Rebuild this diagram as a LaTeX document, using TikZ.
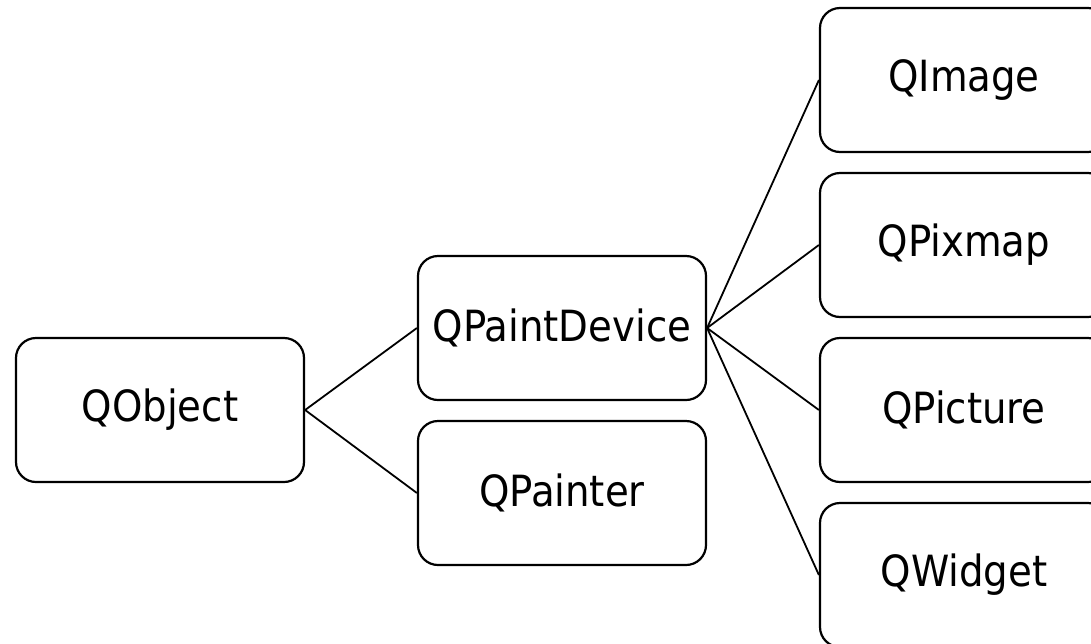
\documentclass[tikz,border=0pt]{standalone}
\usepackage{fontspec}
\setmainfont{DejaVu Sans Condensed}
\begin{document}
\begin{tikzpicture}[x=1pt,y=-1pt,
  box/.style={draw=black, line width=2.2pt, rounded corners=20pt, minimum width=288pt, minimum height=144pt, inner sep=0pt, font=\fontsize{43}{50}\selectfont, fill=white},
  link/.style={draw=black, line width=1.8pt}]
\useasboundingbox (0,0) rectangle (1091,643);
\clip (0,0) rectangle (1091,643);
\node[box] (qobject) at (160,410) {QObject};
\node[box] (qpaintdevice) at (562,328) {QPaintDevice};
\node[box] (qpainter) at (562,493) {QPainter};
\node[box] (qimage) at (964,80) {QImage};
\node[box] (qpixmap) at (964,245) {QPixmap};
\node[box] (qpicture) at (964,410) {QPicture};
\node[box] (qwidget) at (964,575) {QWidget};
\draw[link] (qobject.east) -- (qpaintdevice.west);
\draw[link] (qobject.east) -- (qpainter.west);
\draw[link] (qpaintdevice.east) -- (qimage.west);
\draw[link] (qpaintdevice.east) -- (qpixmap.west);
\draw[link] (qpaintdevice.east) -- (qpicture.west);
\draw[link] (qpaintdevice.east) -- (qwidget.west);
\end{tikzpicture}
\end{document}
